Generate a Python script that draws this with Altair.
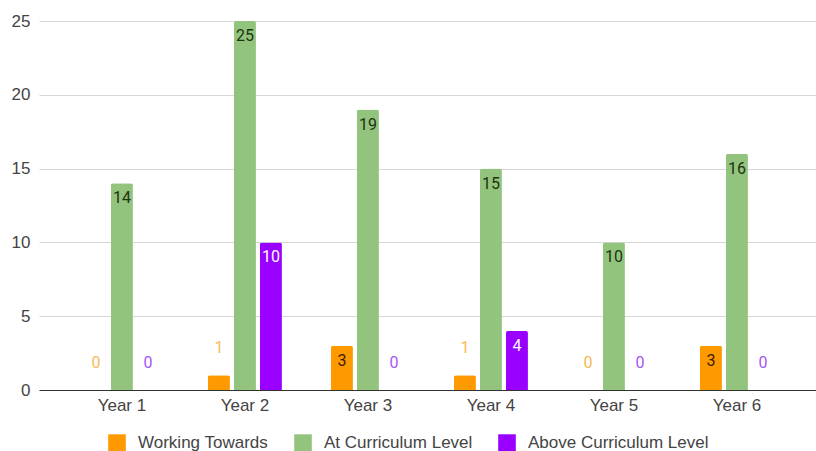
import altair as alt
import pandas as pd

# Pupil attainment counts per year group
years = ["Year 1", "Year 2", "Year 3", "Year 4", "Year 5", "Year 6"]
series = ["Working Towards", "At Curriculum Level", "Above Curriculum Level"]
working_towards = [0, 1, 3, 1, 0, 3]
at_level = [14, 25, 19, 15, 10, 16]
above_level = [0, 10, 0, 4, 0, 0]

bar_colors = ["#ff9900", "#93c47d", "#9900ff"]
inside_text = ["#3b2000", "#1d3312", "#ffffff"]
outside_text = ["#f7b955", "#5e8c48", "#a855f7"]

rows = []
for name, values in zip(series, [working_towards, at_level, above_level]):
    for year, v in zip(years, values):
        rows.append({"year": year, "series": name, "value": v})
df = pd.DataFrame(rows)

FONT = "Liberation Sans"

x_enc = alt.X(
    "year:N",
    sort=years,
    title=None,
    scale=alt.Scale(paddingInner=0, paddingOuter=0.1585, align=0.55),
    axis=alt.Axis(
        labelAngle=0,
        ticks=False,
        grid=False,
        domainColor="#333333",
        domainWidth=1.2,
        labelFont=FONT,
        labelFontSize=17,
        labelColor="#444444",
        labelPadding=7,
    ),
)
y_enc = alt.Y(
    "value:Q",
    title=None,
    scale=alt.Scale(domain=[0, 25], nice=False),
    axis=alt.Axis(
        values=[0, 5, 10, 15, 20, 25],
        ticks=False,
        domain=False,
        gridColor="#d6d6d6",
        gridWidth=1,
        labelFont=FONT,
        labelFontSize=17,
        labelColor="#444444",
        labelPadding=9,
    ),
)
offset_enc = alt.XOffset(
    "series:N",
    sort=series,
    scale=alt.Scale(paddingInner=0.154, paddingOuter=0.9425),
)

bars = alt.Chart(df).mark_bar(cornerRadiusTopLeft=2, cornerRadiusTopRight=2).encode(
    x=x_enc,
    y=y_enc,
    xOffset=offset_enc,
    color=alt.Color(
        "series:N",
        sort=series,
        scale=alt.Scale(domain=series, range=bar_colors),
        legend=alt.Legend(
            title=None,
            orient="none",
            direction="horizontal",
            legendX=69,
            legendY=413,
            symbolType="square",
            symbolSize=310,
            symbolStrokeWidth=0,
            labelFont=FONT,
            labelFontSize=17,
            labelColor="#444444",
            labelOffset=12,
            labelLimit=400,
            columnPadding=25,
        ),
    ),
)

inside = (
    alt.Chart(df)
    .transform_filter("datum.value >= 2")
    .mark_text(font="Roboto", fontSize=16, baseline="middle", dy=15)
    .encode(
        x=alt.X("year:N", sort=years),
        y=alt.Y("value:Q"),
        xOffset=alt.XOffset("series:N", sort=series),
        text=alt.Text("value:Q"),
        color=alt.Color(
            "series:N",
            scale=alt.Scale(domain=series, range=inside_text),
            legend=None,
        ),
    )
)

outside = (
    alt.Chart(df)
    .transform_filter("datum.value < 2")
    .mark_text(font="Roboto", fontSize=16, baseline="middle", dy=-27)
    .encode(
        x=alt.X("year:N", sort=years),
        y=alt.Y("value:Q"),
        xOffset=alt.XOffset("series:N", sort=series),
        text=alt.Text("value:Q"),
        color=alt.Color(
            "series:N",
            scale=alt.Scale(domain=series, range=outside_text),
            legend=None,
        ),
    )
)

chart = (
    alt.layer(bars, inside, outside)
    .resolve_scale(color="independent")
    .properties(
        width=777,
        height=369,
        autosize=alt.AutoSizeParams(type="none"),
        padding={"left": 39, "top": 21, "right": 0, "bottom": 61},
        background="#ffffff",
    )
    .configure_view(stroke=None)
)

chart.save("out.html", embed_options={"renderer": "svg", "actions": False})
